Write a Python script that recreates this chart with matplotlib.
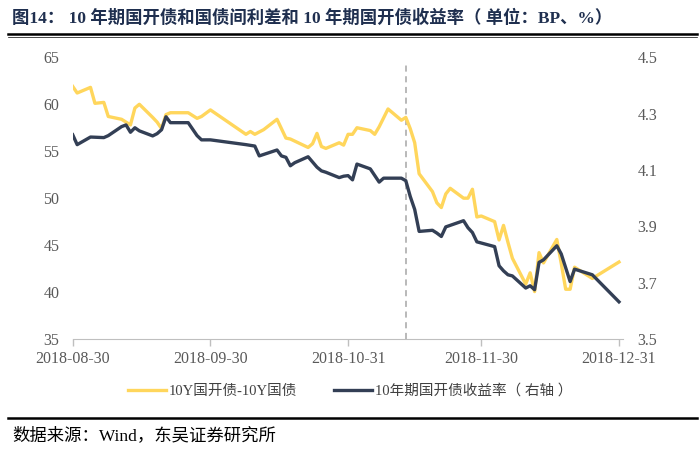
import matplotlib
matplotlib.use('Agg')
import matplotlib.pyplot as plt
import matplotlib.dates as mdates
import pandas as pd

# 10Y国开债-10Y国债 利差 (BP, 左轴)
spread_dates = ['2018-08-30', '2018-08-31', '2018-09-03', '2018-09-04', '2018-09-06', '2018-09-07',
                '2018-09-10', '2018-09-12', '2018-09-13', '2018-09-14', '2018-09-17', '2018-09-18',
                '2018-09-19', '2018-09-20', '2018-09-21', '2018-09-25', '2018-09-27', '2018-09-28',
                '2018-09-30', '2018-10-08', '2018-10-09', '2018-10-10', '2018-10-12', '2018-10-15',
                '2018-10-17', '2018-10-18', '2018-10-22', '2018-10-23', '2018-10-24', '2018-10-25',
                '2018-10-26', '2018-10-29', '2018-10-30', '2018-10-31', '2018-11-01', '2018-11-02',
                '2018-11-05', '2018-11-06', '2018-11-07', '2018-11-09', '2018-11-12', '2018-11-13',
                '2018-11-14', '2018-11-15', '2018-11-16', '2018-11-19', '2018-11-20', '2018-11-21',
                '2018-11-22', '2018-11-23', '2018-11-26', '2018-11-27', '2018-11-28', '2018-11-29',
                '2018-11-30', '2018-12-03', '2018-12-04', '2018-12-05', '2018-12-06', '2018-12-07',
                '2018-12-10', '2018-12-11', '2018-12-12', '2018-12-13', '2018-12-14', '2018-12-17',
                '2018-12-18', '2018-12-19', '2018-12-20', '2018-12-21', '2018-12-25', '2018-12-31']
spread_vals = [61.9, 61.2, 61.8, 60.1, 60.2, 58.7,
               58.4, 57.8, 59.6, 60.0, 58.6, 58.1,
               57.4, 58.9, 59.1, 59.1, 58.5, 58.7,
               59.4, 56.8, 57.1, 56.8, 57.3, 58.4,
               56.4, 56.3, 55.4, 55.8, 56.9, 55.5,
               55.3, 55.9, 55.65, 56.8, 56.8, 57.5,
               57.2, 56.8, 57.6, 59.5, 58.3, 58.6,
               57.4, 55.9, 52.6, 50.7, 49.5, 49.0,
               50.45, 51.05, 50.0, 50.0, 50.95, 48.0,
               48.1, 47.5, 45.55, 47.1, 45.3, 43.6,
               40.85, 42.05, 40.05, 44.2, 43.1, 45.6,
               43.05, 40.3, 40.3, 42.65, 41.45, 43.2]

# 10年期国开债收益率 (%, 右轴)
yield_dates = ['2018-08-30', '2018-08-31', '2018-09-03', '2018-09-06', '2018-09-07', '2018-09-10',
               '2018-09-11', '2018-09-12', '2018-09-13', '2018-09-14', '2018-09-17', '2018-09-18',
               '2018-09-19', '2018-09-20', '2018-09-21', '2018-09-25', '2018-09-27', '2018-09-28',
               '2018-09-30', '2018-10-08', '2018-10-10', '2018-10-11', '2018-10-15', '2018-10-16',
               '2018-10-17', '2018-10-18', '2018-10-19', '2018-10-22', '2018-10-24', '2018-10-25',
               '2018-10-26', '2018-10-29', '2018-10-30', '2018-10-31', '2018-11-01', '2018-11-02',
               '2018-11-05', '2018-11-07', '2018-11-08', '2018-11-12', '2018-11-13', '2018-11-14',
               '2018-11-15', '2018-11-16', '2018-11-19', '2018-11-20', '2018-11-21', '2018-11-22',
               '2018-11-26', '2018-11-27', '2018-11-28', '2018-11-29', '2018-12-03', '2018-12-04',
               '2018-12-05', '2018-12-06', '2018-12-07', '2018-12-10', '2018-12-11', '2018-12-12',
               '2018-12-13', '2018-12-14', '2018-12-17', '2018-12-18', '2018-12-20', '2018-12-21',
               '2018-12-25', '2018-12-31']
yield_vals = [4.225, 4.19, 4.217, 4.215, 4.222, 4.254,
              4.26, 4.234, 4.25, 4.239, 4.221, 4.229,
              4.243, 4.289, 4.268, 4.268, 4.222, 4.207,
              4.207, 4.19, 4.185, 4.15, 4.171, 4.15,
              4.145, 4.115, 4.126, 4.147, 4.11, 4.097,
              4.092, 4.073, 4.078, 4.08, 4.065, 4.121,
              4.104, 4.057, 4.071, 4.071, 4.062, 4.006,
              3.96, 3.882, 3.886, 3.876, 3.864, 3.898,
              3.92, 3.895, 3.878, 3.845, 3.828, 3.76,
              3.742, 3.728, 3.724, 3.681, 3.689, 3.675,
              3.772, 3.781, 3.831, 3.802, 3.704, 3.748,
              3.728, 3.632]

event_date = '2018-11-13'
xtick_dates = ['2018-08-30', '2018-09-30', '2018-10-31', '2018-11-30', '2018-12-31']
left_ticks = [35, 40, 45, 50, 55, 60, 65]
right_ticks = [3.5, 3.7, 3.9, 4.1, 4.3, 4.5]

title_text = '图14： 10 年期国开债和国债间利差和 10 年期国开债收益率（ 单位：BP、%）'
source_text = '数据来源：Wind，东吴证券研究所'
label_spread = '10Y国开债-10Y国债'
label_yield = '10年期国开债收益率（ 右轴 ）'

serif_cjk = ['Liberation Serif', 'Noto Sans CJK SC']
yellow = '#FFD65C'
navy = '#333F55'
grey_txt = '#595959'

fig = plt.figure(figsize=(7, 4.51), dpi=100)
ax = fig.add_axes([0.1039, 0.2483, 0.7867, 0.6246])
ax2 = ax.twinx()

sd = pd.to_datetime(spread_dates)
yd = pd.to_datetime(yield_dates)
l1, = ax.plot(sd, spread_vals, color=yellow, lw=2.4, label=label_spread, zorder=3)
l2, = ax2.plot(yd, yield_vals, color=navy, lw=2.4, label=label_yield, zorder=3)

ax.axvline(pd.Timestamp(event_date), ymin=0, ymax=0.98, color='#A6A6A6', lw=1.1,
           ls=(0, (4, 3)), zorder=1)

ax.set_xlim(pd.Timestamp('2018-08-30'), pd.Timestamp('2019-01-01'))
ax.set_ylim(35, 65)
ax2.set_ylim(3.5, 4.5)
ax.set_yticks(left_ticks)
ax2.set_yticks(right_ticks)
ax2.set_yticklabels([f'{v:.1f}' for v in right_ticks])
ax.set_xticks(pd.to_datetime(xtick_dates))
ax.xaxis.set_major_formatter(mdates.DateFormatter('%Y-%m-%d'))

for a in (ax, ax2):
    for s in ('top', 'left', 'right'):
        a.spines[s].set_visible(False)
    a.spines['bottom'].set_color('#BFBFBF')
ax2.spines['bottom'].set_visible(False)

ax.tick_params(axis='x', colors='#BFBFBF', length=5, width=1, labelcolor=grey_txt,
               labelsize=11.5, pad=3.5)
ax.tick_params(axis='y', length=0, labelcolor=grey_txt, labelsize=11.5, pad=9.5)
ax2.tick_params(axis='y', length=0, labelcolor=grey_txt, labelsize=11.5, pad=10)
for lbl in ax.get_xticklabels() + ax.get_yticklabels() + ax2.get_yticklabels():
    lbl.set_fontfamily('Liberation Serif')

# 标题和分隔线
fig.text(0.017, 1 - 18 / 451, title_text, fontsize=12.5, fontweight='bold', color='#1F2F4F',
         family=serif_cjk, ha='left', va='center')
fig.add_artist(plt.Line2D([0.012, 0.995], [1 - 34 / 451] * 2, color='black', lw=1.8))
fig.add_artist(plt.Line2D([0.012, 0.995], [1 - 36.5 / 451] * 2, color='black', lw=0.5))
fig.add_artist(plt.Line2D([0.012, 0.995], [1 - 418 / 451] * 2, color='black', lw=1.8))

fig.legend(handles=[l1, l2], loc='center', bbox_to_anchor=(0.5, 1 - 391 / 451), ncol=2,
           frameon=False, handlelength=2.6, columnspacing=2.5, handletextpad=0.2,
           prop={'family': serif_cjk, 'size': 10.5}, labelcolor='#404040')

fig.text(0.017, 1 - 436 / 451, source_text, fontsize=12.5, family=serif_cjk,
         ha='left', va='center', color='black')

fig.savefig('out.png', dpi=100)
